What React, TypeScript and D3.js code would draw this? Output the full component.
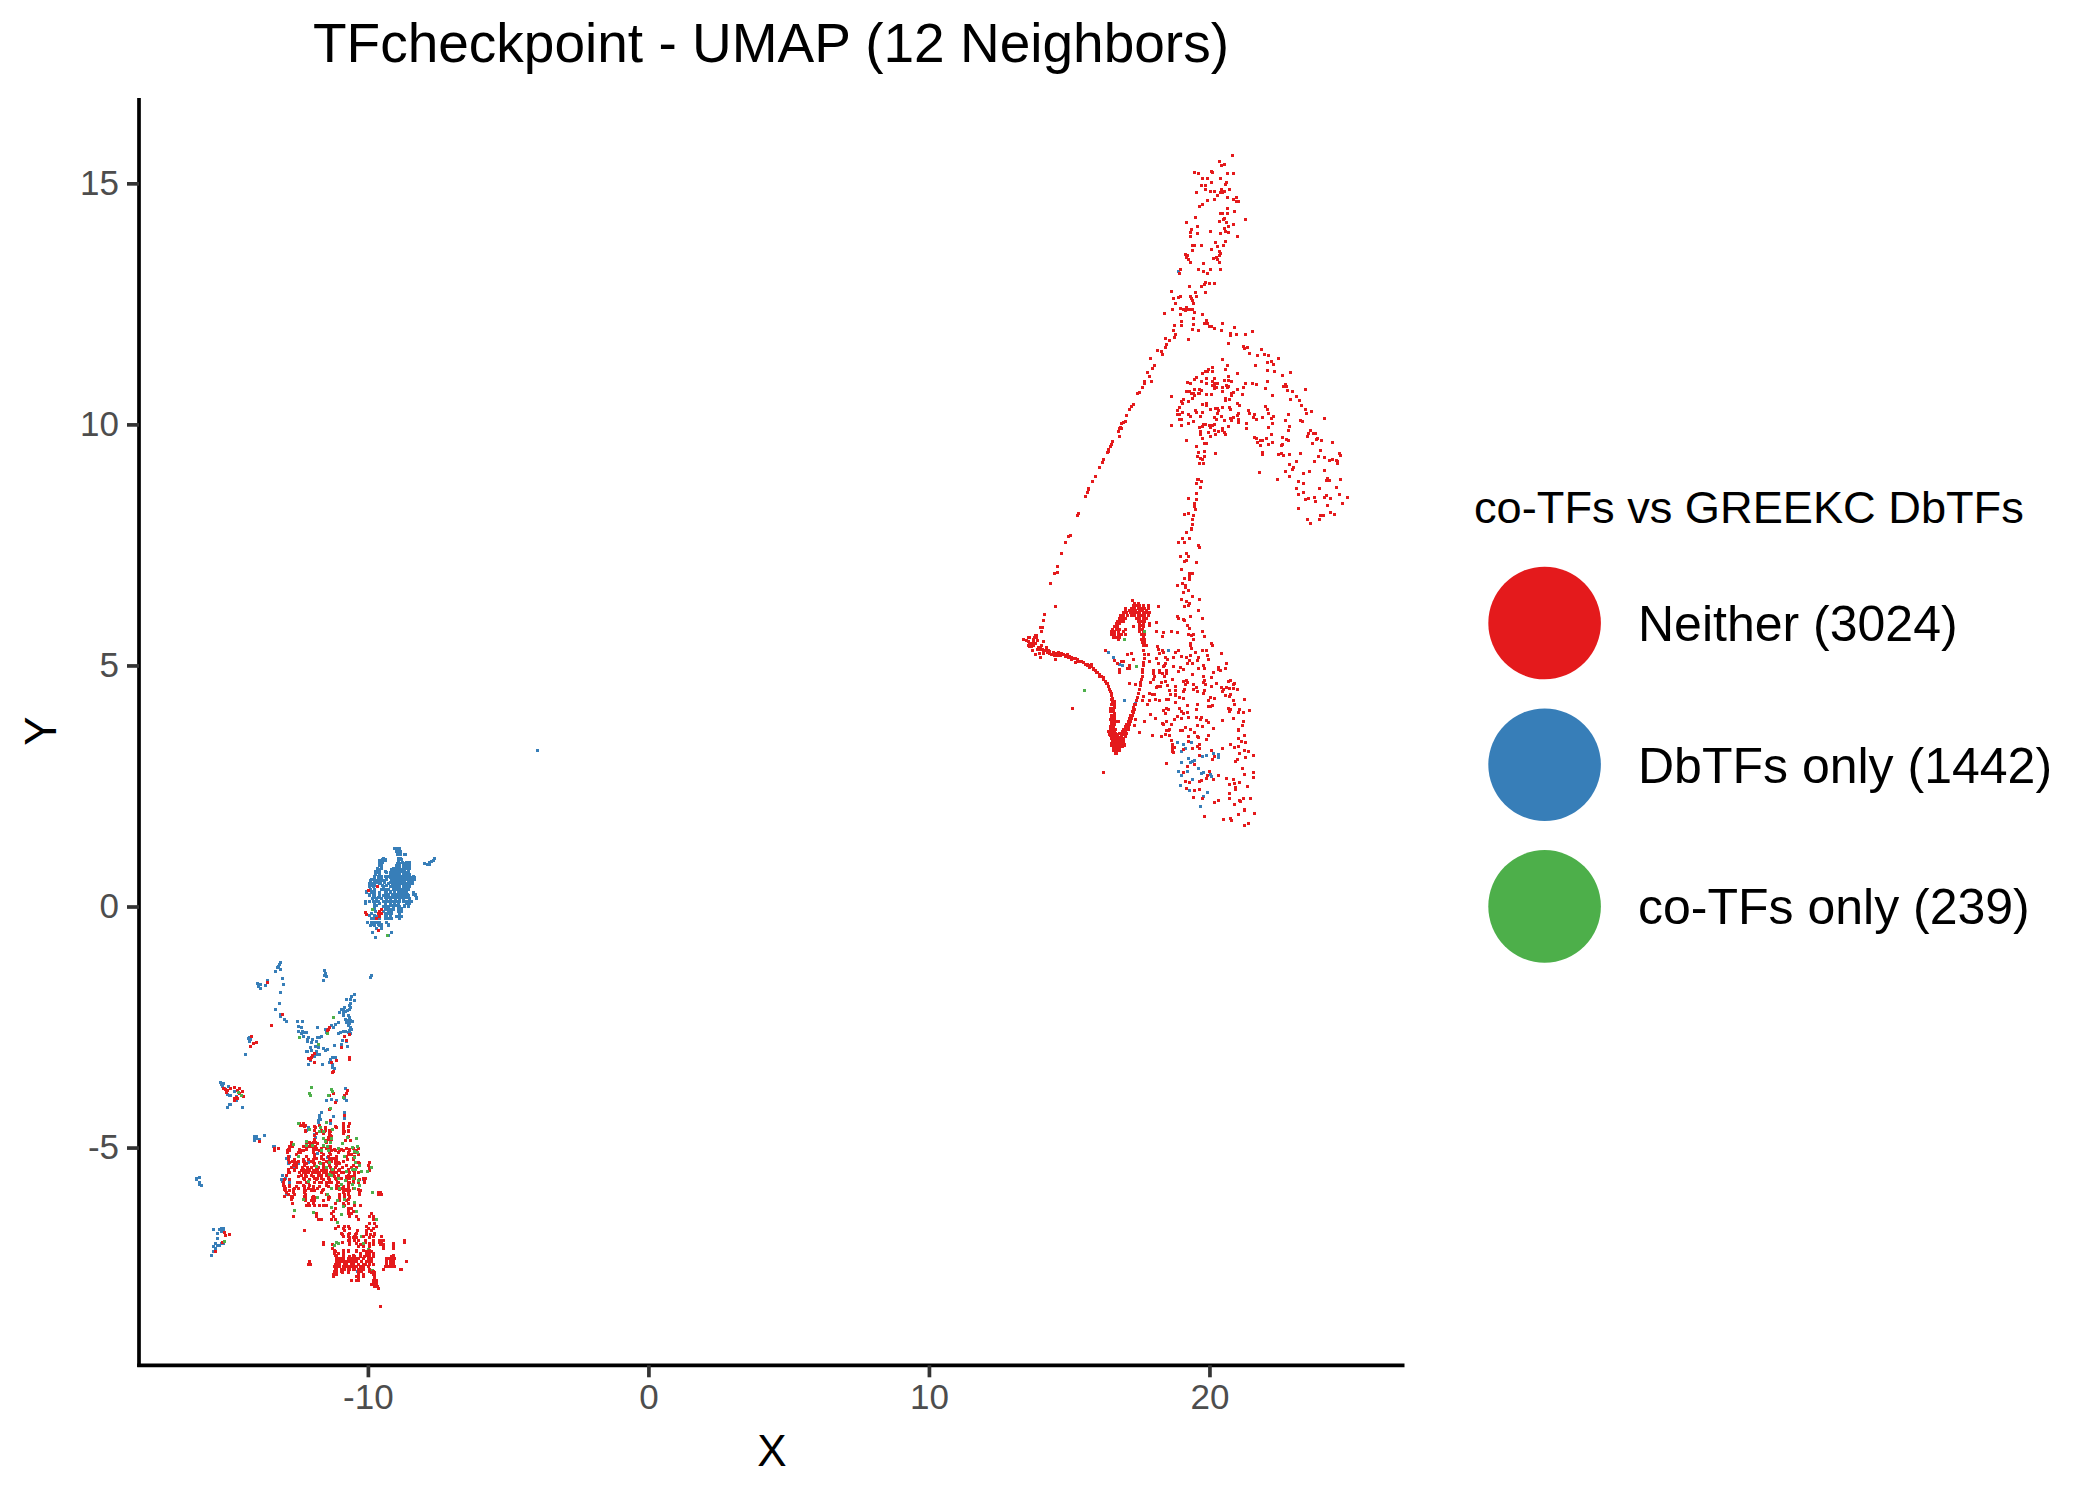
import React, { useEffect, useRef } from 'react';
import * as d3 from 'd3';

type Pt = [number, number];
type Row = [number, number[]];

const titleText = 'TFcheckpoint - UMAP (12 Neighbors)';
const legendTitle = 'co-TFs vs GREEKC DbTFs';
const legendLabels = ['Neither (3024)', 'DbTFs only (1442)', 'co-TFs only (239)'];
const colors = ['#E41A1C', '#377EB8', '#4DAF4A'];
const xTicks = [-10, 0, 10, 20];
const yTicks = [-5, 0, 5, 10, 15];

// x / y in UMAP units
const neitherTop: Pt[] = [[20.81,15.58],[20.35,15.46],[20.53,15.40],[20.42,15.38],[19.46,15.23],[19.60,15.21],[20.06,15.25],[20.10,15.23],[20.63,15.21],[20.85,15.21],[19.74,15.11],[19.92,15.09],[20.38,15.09],[20.06,15.02],[20.60,15.02],[20.56,14.98],[19.71,14.96],[19.85,14.96],[19.85,14.88],[19.53,14.82],[20.03,14.84],[20.17,14.84],[20.42,14.88],[20.53,14.84],[20.71,14.88],[20.39,14.82],[20.46,14.82],[20.28,14.75],[20.63,14.71],[20.96,14.71],[20.85,14.67],[20.96,14.63],[21.03,14.63],[20.17,14.67],[19.92,14.65],[19.74,14.57],[19.64,14.51],[20.63,14.48],[20.88,14.42],[20.38,14.38],[20.46,14.38],[20.63,14.38],[19.49,14.30],[20.53,14.28],[20.49,14.26],[20.35,14.21],[21.28,14.24],[19.17,14.19],[20.60,14.19],[20.85,14.15],[19.57,14.11],[20.67,14.11],[19.35,14.05],[20.53,14.07],[20.03,14.01],[20.56,14.01],[19.33,13.99],[19.57,13.95],[20.38,13.95],[20.67,13.97],[19.32,13.90],[20.99,13.90],[20.21,13.78],[20.56,13.80],[19.39,13.72],[19.46,13.72],[19.71,13.72],[20.28,13.70],[20.49,13.72],[19.39,13.61],[20.06,13.63],[20.35,13.59],[20.39,13.55],[19.14,13.53],[19.21,13.51],[20.35,13.51],[19.17,13.47],[20.14,13.45],[20.24,13.47],[20.28,13.43],[19.24,13.41],[19.32,13.36],[20.35,13.36],[19.78,13.34],[18.96,13.22],[19.60,13.22],[20.03,13.22],[20.38,13.22],[19.78,13.18],[19.92,13.14],[18.92,13.12],[19.85,12.95],[19.99,12.93],[20.17,12.93],[19.81,12.91],[19.28,12.85],[19.71,12.85],[18.64,12.76],[19.49,12.74],[19.85,12.74],[18.96,12.66],[18.89,12.64],[19.33,12.66],[19.53,12.66],[18.71,12.62],[19.35,12.62],[19.39,12.58],[18.78,12.51],[19.42,12.51],[18.96,12.41],[18.67,12.39],[19.09,12.39],[19.17,12.43],[19.14,12.37],[19.24,12.39],[19.32,12.39],[19.39,12.39],[19.46,12.33],[18.39,12.31],[18.96,12.27],[19.74,12.27],[19.42,12.20],[18.99,12.14],[19.89,12.16],[19.81,12.10],[19.92,12.10],[20.46,12.10],[18.75,12.06],[18.99,12.06],[19.42,12.08],[19.99,12.04],[20.06,12.04],[20.17,11.99],[20.88,12.02],[18.71,11.95],[19.39,11.97],[19.60,11.95],[20.42,11.95],[21.53,11.93],[20.74,11.89],[20.74,11.85],[20.96,11.87],[21.28,11.87],[18.78,11.87],[18.75,11.81],[18.42,11.79],[18.57,11.75],[19.24,11.77],[20.67,11.68],[18.46,11.66],[18.42,11.60],[21.20,11.62],[21.35,11.60],[21.24,11.58],[21.85,11.56],[18.14,11.54],[18.28,11.52],[18.32,11.46],[21.42,11.48],[21.70,11.43],[21.95,11.46],[22.10,11.43],[17.89,11.37],[20.46,11.35],[22.45,11.37],[22.06,11.29],[22.20,11.31],[22.27,11.25],[18.03,11.23],[20.63,11.23],[21.63,11.23],[17.96,11.16],[20.10,11.19],[19.96,11.14],[20.56,11.14],[22.06,11.12],[22.31,11.10],[19.85,11.10],[19.92,11.10],[19.74,11.06],[17.78,11.08],[20.10,11.10],[20.99,11.06],[22.88,11.08],[22.60,11.02],[17.85,11.00],[19.53,10.98],[20.67,11.00],[19.89,10.96],[20.17,10.96],[19.46,10.94],[17.68,10.90],[17.93,10.90],[17.68,10.85],[19.21,10.87],[19.32,10.85],[19.71,10.90],[19.89,10.85],[20.10,10.90],[20.53,10.92],[20.67,10.92],[20.78,10.90],[20.19,10.85],[20.28,10.85],[21.28,10.85],[21.53,10.85],[21.67,10.83],[22.06,10.90],[22.70,10.83],[20.10,10.81],[20.17,10.81],[20.24,10.77],[20.17,10.75],[20.60,10.81],[20.67,10.79],[20.46,10.77],[20.63,10.77],[21.20,10.77],[17.60,10.77],[22.63,10.79],[22.74,10.79],[21.99,10.75],[19.46,10.73],[19.64,10.73],[19.71,10.71],[20.99,10.73],[23.42,10.73],[22.77,10.71],[22.95,10.69],[20.46,10.69],[19.17,10.69],[19.28,10.69],[17.43,10.65],[17.50,10.67],[19.35,10.65],[19.42,10.65],[19.60,10.65],[19.64,10.65],[20.84,10.67],[20.80,10.65],[19.89,10.63],[20.06,10.63],[19.46,10.60],[20.78,10.60],[21.17,10.63],[22.24,10.60],[23.09,10.58],[18.64,10.58],[19.39,10.54],[20.56,10.54],[20.56,10.50],[20.71,10.52],[23.20,10.50],[22.88,10.52],[19.07,10.52],[18.99,10.48],[19.24,10.48],[19.03,10.44],[19.74,10.42],[19.89,10.44],[19.89,10.40],[20.99,10.44],[21.06,10.40],[17.28,10.42],[17.21,10.38],[17.14,10.31],[23.27,10.40],[18.92,10.36],[20.21,10.33],[20.28,10.33],[20.46,10.36],[20.71,10.36],[21.99,10.38],[20.03,10.31],[20.74,10.31],[22.06,10.31],[23.42,10.31],[18.85,10.29],[19.49,10.29],[19.53,10.25],[20.31,10.29],[21.38,10.29],[19.03,10.25],[19.74,10.25],[20.28,10.23],[21.03,10.23],[21.42,10.23],[22.10,10.23],[23.63,10.27],[23.45,10.23],[18.85,10.21],[18.92,10.21],[19.24,10.21],[21.60,10.21],[22.81,10.21],[17.03,10.19],[19.32,10.17],[19.67,10.17],[20.17,10.15],[20.42,10.17],[20.85,10.15],[20.99,10.19],[21.56,10.15],[21.88,10.15],[22.27,10.17],[20.24,10.11],[20.74,10.13],[20.78,10.09],[21.03,10.11],[21.03,10.04],[21.67,10.11],[22.20,10.13],[24.09,10.13],[18.92,10.11],[18.99,10.11],[20.53,10.09],[22.70,10.09],[23.24,10.09],[23.31,10.07],[17.00,10.07],[16.93,10.04],[16.86,10.02],[19.42,10.07],[19.24,10.02],[21.31,10.02],[22.24,10.02],[18.64,9.98],[18.99,9.98],[19.78,10.00],[19.85,10.00],[19.99,9.98],[20.10,9.98],[20.17,10.00],[20.67,9.96],[22.85,9.96],[19.64,9.94],[19.74,9.96],[20.03,9.94],[22.10,9.94],[21.31,9.92],[16.82,9.94],[16.78,9.92],[16.86,9.92],[20.46,9.92],[20.46,9.88],[20.17,9.88],[22.81,9.88],[23.59,9.88],[19.67,9.86],[20.31,9.86],[16.75,9.86],[19.96,9.84],[20.53,9.84],[23.52,9.82],[23.70,9.82],[23.77,9.82],[19.67,9.78],[20.21,9.78],[20.56,9.78],[22.20,9.78],[16.78,9.75],[20.03,9.75],[23.49,9.75],[19.74,9.71],[21.60,9.73],[21.67,9.71],[22.02,9.71],[22.60,9.73],[23.84,9.71],[23.81,9.69],[19.17,9.67],[21.81,9.67],[21.88,9.67],[22.74,9.69],[22.81,9.67],[23.99,9.67],[16.53,9.65],[21.70,9.63],[22.24,9.63],[24.38,9.63],[23.66,9.61],[16.50,9.59],[16.46,9.55],[19.81,9.61],[19.89,9.61],[21.81,9.57],[22.10,9.59],[22.60,9.59],[22.56,9.57],[19.53,9.55],[16.39,9.48],[16.39,9.44],[16.36,9.42],[23.95,9.46],[19.81,9.44],[19.60,9.42],[20.21,9.40],[21.88,9.42],[21.88,9.38],[22.45,9.38],[22.56,9.40],[22.63,9.36],[22.85,9.38],[23.24,9.40],[24.63,9.40],[24.66,9.36],[19.57,9.34],[19.81,9.34],[23.88,9.34],[24.09,9.32],[19.67,9.30],[19.74,9.28],[16.21,9.28],[16.18,9.21],[24.38,9.28],[24.27,9.26],[24.52,9.26],[24.56,9.22],[24.56,9.19],[23.09,9.24],[23.74,9.22],[19.64,9.19],[19.78,9.19],[22.85,9.17],[16.07,9.11],[22.99,9.11],[22.95,9.07],[22.70,9.03],[23.56,9.03],[24.09,9.05],[21.78,9.01],[23.34,8.99],[15.93,8.92],[22.85,8.92],[19.57,8.86],[19.60,8.86],[22.42,8.86],[24.20,8.88],[24.16,8.84],[24.27,8.84],[24.66,8.86],[15.82,8.82],[19.53,8.78],[19.71,8.82],[23.17,8.82],[23.34,8.78],[19.67,8.70],[15.68,8.66],[23.09,8.66],[23.91,8.68],[24.52,8.70]];

const neitherTail: Pt[] = [[23.17,8.55],[23.35,8.59],[24.17,8.53],[24.63,8.55],[24.92,8.49],[23.53,8.47],[23.42,8.45],[23.74,8.49],[24.10,8.49],[24.31,8.47],[23.78,8.41],[24.74,8.35],[24.20,8.32],[23.17,8.26],[24.31,8.18],[24.45,8.14],[23.95,8.12],[24.06,8.12],[23.49,8.03],[23.92,8.03],[23.60,7.95]];

const neitherMiddle: Pt[] = [[15.57,8.51],[15.64,8.59],[15.68,8.64],[15.29,8.12],[15.32,8.16],[14.97,7.68],[15.04,7.70],[14.86,7.54],[14.72,7.33],[14.57,7.06],[14.57,6.93],[14.47,6.91],[14.32,6.69],[14.50,6.23],[14.11,6.06],[14.07,5.94],[13.97,5.79],[14.04,5.79],[14.00,5.71],[19.53,8.57],[19.24,8.47],[19.53,8.45],[19.46,8.35],[19.46,8.30],[19.49,8.24],[19.10,8.14],[19.24,8.16],[19.42,8.10],[19.39,8.03],[19.39,7.93],[19.35,7.85],[19.35,7.82],[19.17,7.76],[19.03,7.64],[19.28,7.64],[18.89,7.54],[19.10,7.56],[19.60,7.49],[19.64,7.45],[19.17,7.33],[18.96,7.25],[19.24,7.25],[19.10,7.16],[19.17,7.18],[19.53,7.14],[18.99,7.00],[19.28,6.91],[19.39,6.91],[19.28,6.85],[19.28,6.79],[19.10,6.81],[18.85,6.66],[19.03,6.69],[19.14,6.66],[19.14,6.62],[19.24,6.56],[19.07,6.52],[19.39,6.42],[18.99,6.37],[19.64,6.37],[19.17,6.33],[19.28,6.29],[19.24,6.25],[19.10,6.23],[19.60,6.15],[18.17,6.23],[18.85,6.02],[18.89,5.98],[19.32,6.02],[19.07,5.96],[19.10,5.94],[19.74,5.98],[17.85,5.86],[17.85,5.83],[18.10,5.90],[19.21,5.83],[19.28,5.77],[18.10,5.71],[18.35,5.69],[18.64,5.71],[18.85,5.69],[19.74,5.71],[18.32,5.61],[19.24,5.65],[19.35,5.63],[19.42,5.65],[19.81,5.61],[19.42,5.54],[19.32,5.46],[19.32,5.41],[20.06,5.46],[20.10,5.42],[18.14,5.40],[18.17,5.34],[18.32,5.32],[19.35,5.36],[18.35,5.27],[18.89,5.32],[19.74,5.30],[19.89,5.30],[18.78,5.27],[19.49,5.27],[20.42,5.25],[17.82,5.23],[18.21,5.25],[19.92,5.21],[19.00,5.19],[19.32,5.21],[18.42,5.17],[18.71,5.17],[19.17,5.17],[19.60,5.17],[18.10,5.15],[18.50,5.13],[19.28,5.11],[19.57,5.11],[19.96,5.13],[17.85,5.09],[18.17,5.05],[18.42,5.05],[18.39,5.00],[19.21,5.05],[19.39,5.05],[20.60,5.05],[19.78,5.00],[18.35,4.98],[18.71,4.98],[18.96,4.96],[19.60,4.94],[19.81,4.94],[20.31,4.96],[20.31,4.92],[20.56,4.94],[18.00,4.90],[18.21,4.90],[18.46,4.90],[18.89,4.88],[19.07,4.92],[20.38,4.90],[20.14,4.86],[18.00,4.84],[18.21,4.86],[18.32,4.84],[18.46,4.84],[19.39,4.82],[18.03,4.78],[18.00,4.71],[18.39,4.78],[19.78,4.78],[20.06,4.76],[18.67,4.71],[17.89,4.65],[18.28,4.65],[18.42,4.67],[19.07,4.67],[19.17,4.69],[19.21,4.65],[19.81,4.69],[19.78,4.65],[19.85,4.61],[20.24,4.63],[20.67,4.67],[20.74,4.69],[20.85,4.61],[20.88,4.63],[19.14,4.61],[19.42,4.61],[18.14,4.57],[18.21,4.57],[18.10,4.55],[18.25,4.57],[18.50,4.59],[18.78,4.57],[19.53,4.55],[20.06,4.57],[20.42,4.55],[20.60,4.55],[20.49,4.51],[20.71,4.53],[20.85,4.53],[20.99,4.51],[19.42,4.51],[18.57,4.49],[18.78,4.49],[19.10,4.51],[19.07,4.47],[19.57,4.47],[19.81,4.49],[19.78,4.42],[20.46,4.47],[17.85,4.42],[17.96,4.40],[18.03,4.40],[18.60,4.40],[18.78,4.40],[18.78,4.38],[20.56,4.38],[20.71,4.36],[20.74,4.40],[18.92,4.34],[19.07,4.32],[20.03,4.34],[20.17,4.32],[19.96,4.28],[20.85,4.28],[21.24,4.30],[17.64,4.36],[17.60,4.28],[17.85,4.28],[18.07,4.30],[18.21,4.28],[18.46,4.30],[18.53,4.30],[18.78,4.24],[17.78,4.20],[19.21,4.17],[19.57,4.20],[19.96,4.15],[20.03,4.15],[20.10,4.17],[20.88,4.20],[18.46,4.11],[18.53,4.09],[18.92,4.11],[19.53,4.09],[20.67,4.11],[20.74,4.09],[20.71,4.05],[21.06,4.09],[21.03,4.03],[21.42,4.07],[21.20,4.03],[18.35,4.07],[18.42,4.01],[19.00,4.05],[19.07,4.01],[19.21,4.03],[17.89,3.99],[18.85,3.95],[18.07,3.90],[18.75,3.88],[19.00,3.90],[19.24,3.93],[19.53,3.93],[19.67,3.88],[19.71,3.93],[20.85,3.90],[17.68,3.84],[19.89,3.86],[19.96,3.82],[20.46,3.86],[21.20,3.84],[18.32,3.80],[18.35,3.78],[18.46,3.84],[18.64,3.78],[19.57,3.76],[19.74,3.74],[21.17,3.76],[19.14,3.72],[20.14,3.70],[18.57,3.68],[18.53,3.66],[18.46,3.66],[18.96,3.66],[19.03,3.66],[19.32,3.68],[21.03,3.68],[21.03,3.66],[19.46,3.61],[17.50,3.61],[17.96,3.55],[18.28,3.53],[18.42,3.57],[18.57,3.55],[19.24,3.53],[19.57,3.53],[19.60,3.51],[19.96,3.55],[21.24,3.55],[19.89,3.47],[21.03,3.49],[18.64,3.45],[19.24,3.43],[21.13,3.43],[21.28,3.41],[18.67,3.37],[18.67,3.32],[19.64,3.37],[19.57,3.32],[20.74,3.35],[20.88,3.30],[21.03,3.32],[18.75,3.30],[18.67,3.26],[18.67,3.22],[18.71,3.20],[19.07,3.26],[19.39,3.28],[19.64,3.28],[20.46,3.28],[20.06,3.24],[21.24,3.24],[21.38,3.22],[21.06,3.18],[21.56,3.14],[19.64,3.14],[20.17,3.12],[20.10,3.05],[21.28,3.10],[20.99,3.05],[20.92,3.01],[18.46,2.97],[19.46,2.95],[19.21,2.91],[21.17,2.87],[16.21,2.78],[19.07,2.78],[20.00,2.81],[19.92,2.72],[20.31,2.72],[21.56,2.78],[21.56,2.68],[21.24,2.74],[19.89,2.66],[20.14,2.64],[20.60,2.66],[20.85,2.64],[19.71,2.62],[19.64,2.60],[19.14,2.60],[19.28,2.58],[21.06,2.58],[20.88,2.56],[20.71,2.54],[21.35,2.49],[20.92,2.47],[20.92,2.43],[19.17,2.45],[19.46,2.41],[19.64,2.43],[20.71,2.35],[19.42,2.27],[19.74,2.25],[20.71,2.25],[21.20,2.25],[21.45,2.25],[21.06,2.20],[21.10,2.18],[20.31,2.20],[20.17,2.16],[20.88,2.12],[21.24,2.02],[21.24,1.99],[21.60,1.93],[21.03,1.91],[19.81,1.87],[20.49,1.81],[20.74,1.83],[20.78,1.79],[21.38,1.73],[21.24,1.69]];

const neitherHook: Pt[] = [[13.36,5.54],[13.47,5.52],[13.54,5.57],[13.58,5.57],[13.72,5.54],[13.79,5.63],[13.83,5.63],[13.75,5.57],[13.83,5.57],[13.86,5.52],[13.54,5.50],[13.58,5.46],[13.54,5.42],[13.58,5.40],[13.65,5.46],[13.72,5.48],[13.79,5.46],[13.72,5.42],[13.65,5.40],[14.00,5.42],[13.90,5.38],[13.97,5.36],[14.07,5.50],[13.68,5.32],[13.86,5.34],[13.93,5.34],[14.04,5.34],[14.18,5.38],[14.25,5.32],[13.79,5.23],[13.93,5.25],[14.07,5.27],[14.07,5.25],[14.15,5.30],[14.22,5.27],[14.29,5.25],[13.97,5.17],[14.36,5.23],[14.43,5.27],[14.47,5.21],[14.57,5.21],[14.61,5.27],[14.68,5.21],[14.79,5.23],[14.86,5.21],[14.93,5.23],[15.00,5.19],[15.07,5.17],[15.14,5.15],[15.22,5.15],[15.29,5.13],[15.22,5.07],[15.36,5.09],[15.43,5.09],[15.50,5.07],[14.50,5.13],[15.57,5.03],[15.64,5.03],[15.71,5.00],[15.79,4.98],[15.79,5.03],[15.86,4.94],[15.93,4.90],[16.00,4.86],[16.07,4.82],[16.14,4.78],[16.21,4.74],[16.29,4.67],[16.32,4.63],[16.39,4.57],[16.43,4.51],[16.46,4.45],[16.50,4.38],[16.53,4.32],[16.57,4.26],[16.57,4.20],[16.61,4.13],[16.57,4.07],[16.61,4.01],[16.57,3.95],[16.61,3.88],[16.57,3.82],[16.57,3.76],[16.53,3.70],[16.57,3.64],[16.53,3.60],[16.46,3.88],[16.75,3.84],[16.39,3.64],[16.43,3.59],[16.46,3.55],[16.50,3.49],[16.53,3.45],[16.61,3.41],[16.64,3.37],[16.71,3.32],[16.57,3.26],[16.68,3.18],[16.78,3.24],[16.71,3.24],[16.64,3.24],[16.89,3.32],[16.96,3.37],[16.78,3.41],[16.86,3.45],[16.93,3.49],[17.00,3.53],[17.03,3.59],[17.10,3.68],[16.93,3.66],[16.78,3.59],[16.71,3.51],[16.68,3.45],[16.75,3.37],[16.57,3.35],[16.50,3.37],[16.64,3.45],[16.71,3.41],[16.86,3.37],[16.78,3.32],[16.64,3.30],[16.57,3.53],[16.64,3.59],[16.64,3.53],[16.78,3.49],[16.86,3.53],[16.93,3.41],[17.14,3.78],[17.18,3.84],[17.21,3.90],[17.25,3.97],[17.28,4.03],[17.32,4.09],[17.28,4.13],[17.35,4.20],[17.39,4.28],[17.43,4.34],[17.46,4.42],[17.50,4.51],[17.53,4.59],[17.53,4.65],[17.57,4.71],[17.60,4.78],[17.60,4.86],[17.60,4.92],[17.64,5.00],[17.64,5.07],[17.68,5.15],[17.68,5.23],[17.64,5.32],[17.71,5.42],[17.68,5.50],[17.64,5.59],[17.64,5.67],[17.60,5.75],[17.60,5.83],[17.60,5.92],[17.21,5.25],[17.07,5.23],[17.28,5.13],[16.71,5.05],[16.86,5.09],[16.93,5.09],[17.14,5.00],[17.07,4.94],[17.14,4.94],[16.78,4.92],[16.78,4.86],[16.61,5.11],[16.29,5.30],[17.14,4.63],[17.35,4.61],[17.32,3.76],[15.11,4.11],[17.35,3.88],[14.31,5.29],[14.38,5.22],[14.55,5.24],[14.73,5.25],[14.88,5.18],[14.97,5.16],[15.08,5.13],[15.32,5.08],[15.64,4.99],[15.74,4.96],[15.88,4.91],[15.98,4.85],[16.09,4.78],[16.21,4.70],[16.36,4.62],[16.45,4.51],[16.52,4.42],[16.51,4.29]];

const hookTopRows: Row[] = [
  [6.35,[17.25]],[6.29,[17.34,17.46]],[6.24,[17.28,17.40,17.52,17.64,17.82]],[6.19,[17.02,17.23,17.34,17.46,17.58,17.70,17.82]],[6.14,[17.02,17.14,17.26,17.38,17.50,17.62,17.74]],[6.09,[16.93,17.05,17.17,17.28,17.40,17.52,17.64,17.76,17.88]],[6.03,[16.83,16.95,17.07,17.23,17.34,17.46,17.58,17.70,17.82]],[5.98,[16.79,16.90,17.02,17.40,17.52,17.64,17.76]],[5.92,[16.71,16.83,16.95,17.46,17.58,17.70]],[5.86,[16.67,16.79,17.52,17.64]],[5.81,[16.60,16.71,17.31,17.52,17.64]],[5.75,[16.55,16.67,16.79,17.02,17.50,17.62]],[5.70,[16.51,16.63,16.75,16.93,17.52,17.64]],[5.64,[16.51,16.63,16.75,16.87,16.99,17.58,17.70]],[5.59,[16.57,16.69,16.81]],[5.53,[16.75,17.58,17.70]],[5.48,[17.62,17.70]],[5.41,[17.64,17.74]],
];

const hookBottomRows: Row[] = [
  [4.25,[16.54,16.63]],[4.18,[16.51,16.61,17.32]],[4.11,[16.49,16.59,17.29]],[4.04,[16.49,16.59,17.25]],[3.97,[16.51,16.61,17.20]],[3.90,[16.51,16.61,17.16]],[3.83,[16.51,16.61,16.73,17.11]],[3.78,[16.51,16.61,17.05]],[3.73,[16.49,16.59,16.99,17.11]],[3.67,[16.47,16.56,16.66,16.93,17.01]],[3.62,[16.40,16.51,16.63,16.89,16.99]],[3.56,[16.42,16.54,16.63,16.73,16.87,16.97]],[3.51,[16.51,16.63,16.75,16.87]],[3.45,[16.57,16.69,16.81,16.93]],[3.39,[16.51,16.63,16.75,16.87]],[3.34,[16.51,16.63,16.75,16.87,16.97]],[3.28,[16.57,16.69,16.81]],[3.23,[16.57,16.69,16.78]],[3.17,[16.66]],
];

const neitherSmall: Pt[] = [[-9.52,-0.06],[-9.57,-0.11],[-9.61,-0.14],[-9.53,-0.14],[-9.57,-0.20],[-10.09,-0.12],[-10.06,-0.16],[-9.99,0.34],[-9.66,0.41],[-9.63,-0.49],[-9.69,-0.25],[-13.59,-1.57],[-13.05,-2.24],[-13.44,-2.47],[-14.16,-2.69],[-14.09,-2.84],[-13.98,-2.82],[-14.19,-2.90],[-11.38,-2.51],[-11.41,-2.55],[-11.45,-2.57],[-10.66,-2.65],[-10.84,-2.69],[-10.77,-2.78],[-10.95,-2.92],[-12.12,-3.15],[-12.02,-3.13],[-11.98,-3.09],[-11.91,-3.05],[-12.05,-3.17],[-11.91,-3.23],[-11.30,-3.23],[-11.13,-3.19],[-10.66,-3.13],[-10.66,-3.17],[-11.27,-3.44],[-11.23,-3.42],[-15.16,-3.77],[-15.08,-3.79],[-15.01,-3.81],[-14.91,-3.77],[-15.05,-3.85],[-14.76,-3.75],[-14.58,-3.77],[-14.66,-3.81],[-14.48,-3.83],[-14.58,-3.88],[-14.76,-3.98],[-14.69,-3.96],[-14.66,-3.98],[-14.76,-4.02],[-14.44,-3.94],[-13.87,-4.87],[-15.12,-6.77],[-15.08,-6.82],[-14.94,-6.80],[-15.19,-6.97],[-15.44,-7.15]];

const neitherLowerRows: Row[] = [
  [-3.81,[-10.73]],[-3.88,[-11.23,-10.78]],[-3.93,[-11.38,-10.82]],[-4.06,[-11.16]],[-4.22,[-11.38]],[-4.33,[-10.82]],[-4.44,[-11.34]],[-4.50,[-10.88,-10.66]],
  [-4.54,[-12.42,-12.35,-12.28,-12.22,-11.73]],[-4.58,[-11.88,-11.69,-11.52,-11.13,-10.88]],[-4.64,[-11.52,-11.35]],[-4.67,[-12.21,-11.69,-11.54,-11.33,-10.84,-10.70]],[-4.74,[-11.90,-11.33]],[-4.79,[-11.40,-11.33]],[-4.86,[-11.52,-10.81,-10.63]],[-4.91,[-12.73,-12.04,-11.80]],
  [-4.97,[-12.71,-12.30,-11.90,-11.59,-11.41,-11.35]],[-5.02,[-13.33,-13.19,-12.80,-12.18,-11.85,-11.65,-11.47,-11.33,-10.76,-10.52,-10.34]],[-5.07,[-13.34,-12.87,-12.78,-12.42,-12.28,-11.71,-11.29,-11.17,-11.00,-10.88,-10.66,-10.40]],[-5.14,[-12.54,-11.89,-11.59,-11.35,-10.70,-10.58,-10.33]],[-5.23,[-11.83,-11.65,-11.29,-11.21,-10.52]],[-5.29,[-12.68,-12.48,-12.28,-12.00,-11.47,-11.29,-11.14,-10.88]],[-5.34,[-12.60,-12.18,-11.89,-11.59,-11.17,-11.02,-10.31]],
  [-5.41,[-12.72,-12.54,-12.33,-12.16,-12.00,-11.77,-11.57,-11.35,-11.17,-10.90,-10.58,-10.40,-9.93]],[-5.47,[-12.60,-12.36,-12.18,-12.07,-11.95,-11.80,-11.65,-11.47,-11.23,-11.06,-10.52,-9.95]],[-5.52,[-12.80,-12.45,-12.30,-12.13,-11.97,-11.83,-11.59,-11.35,-11.11,-10.88,-10.64,-10.34]],[-5.58,[-12.90,-12.36,-12.21,-12.00,-11.77,-11.65,-11.47,-11.23,-11.06,-10.70,-10.46]],[-5.65,[-12.28,-11.92,-11.80,-11.65,-11.41,-11.17,-10.95,-10.66,-10.46,-10.16,-10.07]],[-5.72,[-12.52,-12.42,-12.13,-11.89,-11.71,-11.47,-11.29,-11.09,-10.70,-10.52]],[-5.79,[-13.02,-12.80,-12.28,-12.09,-11.47,-11.11,-10.70]],
  [-5.85,[-12.92,-12.60,-12.48,-12.13,-11.95,-11.80,-11.11,-10.97,-10.88,-10.70,-10.52]],[-5.90,[-12.92,-12.78,-12.24,-12.00,-11.89,-11.61,-10.88,-10.76,-10.64,-10.28]],[-5.97,[-12.84,-12.60,-12.24,-11.47,-11.00,-10.82,-10.70,-10.31,-9.63,-9.53]],[-6.04,[-12.70,-12.24,-11.98,-11.83,-11.38,-11.00,-10.82,-10.64]],[-6.10,[-12.24,-12.00,-11.89,-11.59,-11.00,-10.76]],[-6.16,[-12.70,-12.13,-11.95,-11.16,-10.88,-10.70]],[-6.21,[-12.18,-12.07,-11.89,-11.71,-11.59,-11.47,-10.82,-10.46,-10.27]],
  [-6.26,[-11.17,-10.70,-10.58]],[-6.32,[-11.23,-10.70,-10.52]],[-6.37,[-11.83,-11.29,-10.70,-10.58,-9.87]],[-6.42,[-12.66,-11.83,-11.23,-10.64,-10.40,-9.95,-9.81]],[-6.50,[-11.77,-11.65,-11.29,-11.17,-10.34,-9.69,-9.81]],[-6.57,[-9.75,-9.93]],[-6.63,[-11.06,-10.82,-10.70,-10.05,-9.69]],[-6.68,[-11.14,-10.88,-10.64,-9.99,-9.81]],[-6.73,[-12.27,-10.82,-10.38,-10.05,-9.87]],[-6.80,[-10.90,-10.70,-10.44,-10.05,-9.90,-9.75]],[-6.86,[-10.64,-10.52,-10.40,-9.93]],[-6.92,[-10.70,-10.34,-10.10,-9.51,-9.45]],[-6.97,[-11.59,-10.90,-10.64,-10.10,-9.57,-8.68]],[-7.02,[-11.59,-11.26,-10.64,-10.28,-9.81,-9.55,-9.43,-9.09]],[-7.09,[-11.26,-9.45,-9.09]],
  [-7.16,[-11.17,-10.88,-10.70,-10.40,-10.05,-9.87]],[-7.23,[-11.17,-10.88,-10.52,-10.28,-10.05,-9.81,-9.09]],[-7.30,[-11.11,-10.94,-10.64,-10.40,-10.16,-9.93,-9.27,-9.15,-9.04]],[-7.37,[-12.07,-11.06,-10.88,-10.70,-10.46,-10.22,-9.99,-9.33,-9.21,-9.09,-8.64]],[-7.42,[-12.13,-12.04,-11.17,-11.00,-10.82,-10.58,-10.34,-10.10,-9.33,-9.19,-9.07]],[-7.47,[-11.11,-10.88,-10.76,-10.64,-10.52,-10.28,-10.16,-9.33,-9.21,-9.09]],[-7.53,[-11.17,-10.82,-10.64,-10.46,-10.34,-10.22,-9.45,-8.83]],[-7.60,[-11.11,-10.90,-10.70,-10.34,-9.87,-9.78]],[-7.67,[-11.21,-10.40,-10.16,-9.75]],[-7.75,[-10.58,-10.34,-9.81,-9.69]],[-7.83,[-9.87,-9.69]],[-7.92,[-9.63]],[-8.30,[-9.56]],
];

// second, closer reading of the upper part of the red cluster
const neitherUpperDense: Row[] = [
  [-4.50,[-12.43,-12.28,-10.88,-10.67]],[-4.57,[-12.25,-11.89,-11.14,-10.88,-10.70]],[-4.64,[-12.21,-11.89,-11.65,-11.38,-10.88,-10.70]],[-4.71,[-11.83,-11.60,-11.36,-10.88]],[-4.78,[-11.36,-11.30,-10.70]],[-4.84,[-11.89,-11.42,-11.30]],[-4.90,[-12.72,-12.19,-12.09,-11.95,-11.86,-11.48]],[-4.97,[-12.78,-12.69,-12.31,-12.13,-12.01,-11.86,-11.60]],[-5.04,[-12.84,-12.43,-12.19,-11.95,-11.83,-11.36,-11.18,-10.94,-10.64]],[-5.11,[-12.88,-12.49,-12.40,-11.95,-11.65,-11.36,-11.06,-10.70,-10.47]],[-5.18,[-12.84,-12.49,-12.19,-11.89,-11.65,-11.42,-11.12,-10.76,-10.47]],[-5.25,[-12.84,-12.61,-12.31,-12.13,-11.95,-11.60,-11.36,-11.12,-10.74,-10.53]],[-5.32,[-12.78,-12.61,-12.55,-12.25,-11.95,-11.71,-11.42,-11.06,-10.35,-9.93]],[-5.38,[-12.66,-12.55,-12.25,-11.89,-11.60,-11.36,-11.12,-10.76,-10.53,-9.99]],[-5.45,[-12.84,-12.61,-12.31,-12.13,-11.83,-11.60,-11.30,-11.00,-10.70,-10.47]],[-5.52,[-12.84,-12.43,-12.19,-11.95,-11.71,-11.48,-11.24,-10.94,-10.47]],[-5.59,[-12.49,-12.19,-11.95,-11.65,-11.42,-11.18,-10.76,-10.59]],[-5.66,[-12.96,-12.78,-12.25,-12.07,-11.83,-11.60,-11.36,-11.12,-10.76,-10.53,-10.29,-10.11]],[-5.73,[-13.02,-12.49,-12.19,-11.89,-11.65,-11.36,-11.06,-10.64,-10.35,-10.11]],[-5.80,[-12.96,-12.78,-12.55,-12.25,-11.95,-11.71,-11.42,-11.06,-10.88,-10.70]],[-5.87,[-12.96,-12.66,-12.25,-12.01,-11.60,-11.00,-10.76,-10.35]],[-5.94,[-12.90,-12.66,-12.25,-11.65,-10.88,-10.70,-10.29,-9.63,-9.54]],[-6.01,[-12.96,-12.72,-12.25,-11.95,-11.42,-11.00,-10.82,-10.64]],[-6.08,[-12.72,-11.95,-11.42,-10.82,-10.70]],
];

// same for the bottom part, where the marks run together
const neitherBottomDense: Row[] = [
  [-6.78,[-10.94,-10.64,-10.40,-10.05,-9.75]],[-6.85,[-10.88,-10.70,-10.46,-10.17,-9.81,-9.51]],[-6.92,[-10.64,-10.46,-10.34,-9.81,-9.57,-9.45,-8.68]],[-6.99,[-10.64,-10.40,-10.17,-9.93,-9.81,-9.51,-9.10]],[-7.06,[-10.34,-10.17,-9.93,-9.45,-9.10]],[-7.14,[-11.18,-10.88,-10.70,-10.40,-10.17,-9.93]],[-7.19,[-11.18,-11.06,-10.88,-10.28,-10.05,-9.93,-9.81]],[-7.25,[-11.12,-10.64,-10.46,-10.28,-10.11,-9.93,-9.81,-9.15]],[-7.30,[-11.12,-11.00,-10.88,-10.70,-10.58,-10.46,-10.34,-10.17,-9.99,-9.87,-9.33,-9.21,-9.10]],[-7.36,[-11.12,-10.97,-10.76,-10.58,-10.40,-10.22,-10.05,-9.87,-9.33,-9.21,-9.10,-8.64]],[-7.42,[-11.12,-11.00,-10.76,-10.52,-10.34,-10.17,-9.93,-9.81,-9.33,-9.21,-9.10]],[-7.47,[-11.18,-11.00,-10.82,-10.58,-10.40,-10.22,-9.99,-9.39,-9.27,-9.15,-9.04]],[-7.53,[-11.12,-10.94,-10.70,-10.52,-10.34,-10.17,-9.93,-8.80]],[-7.58,[-11.18,-10.94,-10.70,-10.34,-10.22,-9.93,-9.81]],[-7.64,[-11.23,-11.12,-10.34,-10.17,-9.81,-9.75]],[-7.69,[-10.34,-9.75]],[-7.75,[-10.58,-10.40,-9.75,-9.69]],[-7.82,[-9.81,-9.69]],[-7.89,[-9.75,-9.67]],
];

const dbtfsClusterRows: Row[] = [
  [1.21,[-9.04,-8.88]],[1.14,[-8.92,-8.85]],[1.07,[-8.92,-8.85,-8.67]],[1.00,[-9.45,-8.92,-8.85]],[0.96,[-9.59,-9.45,-9.36,-8.92]],[0.90,[-9.59,-9.52,-8.95,-8.86,-8.71,-8.60,-8.52]],[0.83,[-9.52,-8.98,-8.86,-8.74,-8.62,-8.52]],[0.77,[-9.63,-9.15,-9.04,-8.92,-8.80,-8.68,-8.56]],[0.70,[-9.69,-9.57,-9.33,-9.21,-9.09,-8.98,-8.86,-8.74,-8.62]],[0.63,[-9.75,-9.63,-9.51,-9.39,-9.27,-9.15,-9.04,-8.92,-8.80,-8.68,-8.56,-8.38]],[0.56,[-9.87,-9.75,-9.63,-9.51,-9.33,-9.09,-8.98,-8.86,-8.74,-8.62,-8.50,-8.34]],[0.49,[-9.90,-9.78,-9.66,-9.54,-9.42,-9.21,-9.04,-8.92,-8.80,-8.68,-8.56,-8.41]],[0.43,[-9.90,-9.78,-9.49,-9.33,-9.09,-8.98,-8.86,-8.62,-8.50]],[0.36,[-9.90,-9.78,-9.45,-9.27,-9.09,-8.98,-8.80,-8.68,-8.56]],[0.31,[-10.05,-9.87,-9.75,-9.33,-9.21,-9.04,-8.86,-8.74,-8.62]],[0.24,[-9.93,-9.81,-9.57,-9.39,-9.27,-9.09,-8.98,-8.86,-8.71,-8.60,-8.38,-8.32]],[0.18,[-9.81,-9.63,-9.39,-9.27,-9.15,-9.04,-8.92,-8.80,-8.62,-8.26]],[0.10,[-10.10,-9.95,-9.81,-9.69,-9.45,-9.33,-9.21,-9.09,-8.98,-8.86,-8.74,-8.62,-8.50,-8.44]],[0.01,[-9.75,-9.45,-9.27,-9.09,-8.86,-8.71,-8.56]],[-0.07,[-9.75,-9.33,-9.21,-9.09]],[-0.14,[-9.87,-9.39,-9.27,-9.15,-8.86]],[-0.20,[-9.69,-9.33,-8.98,-8.92,-8.80]],[-0.25,[-9.87,-9.71,-9.57,-9.27,-9.15,-8.86]],[-0.34,[-10.02,-9.83,-9.69,-9.57,-9.33]],[-0.38,[-9.87,-9.75,-9.63,-9.51,-9.27]],[-0.46,[-9.69,-9.53]],[-0.54,[-9.84,-9.16]],[-0.61,[-9.27]],[-0.64,[-9.73]],
];

const dbtfsClusterDense: Row[] = [
  [1.21,[-9.03,-8.94]],[1.14,[-8.97,-8.87]],[1.08,[-8.94,-8.84,-8.68]],[0.98,[-9.49,-9.37,-8.92,-8.80]],[0.92,[-9.60,-9.49,-8.92,-8.77,-8.62,-8.53]],[0.85,[-9.57,-8.97,-8.86,-8.74,-8.62,-8.50]],[0.79,[-9.65,-9.53,-9.09,-8.97,-8.86,-8.74,-8.62,-8.50]],[0.73,[-9.72,-9.60,-9.39,-9.15,-9.03,-8.92,-8.80,-8.68,-8.56]],[0.67,[-9.72,-9.60,-9.21,-9.09,-8.97,-8.86,-8.74,-8.62,-8.50]],[0.61,[-9.75,-9.63,-9.18,-9.06,-8.94,-8.82,-8.70,-8.58,-8.46,-8.35]],[0.54,[-9.89,-9.77,-9.65,-9.45,-9.15,-9.03,-8.92,-8.80,-8.68,-8.56,-8.44]],[0.48,[-9.93,-9.81,-9.57,-9.27,-9.13,-9.01,-8.89,-8.77,-8.65,-8.53,-8.42]],[0.42,[-9.93,-9.81,-9.45,-9.21,-9.09,-8.97,-8.86,-8.74,-8.62,-8.50]],[0.36,[-9.89,-9.77,-9.53,-9.33,-8.97,-8.86,-8.74,-8.62]],[0.29,[-10.04,-9.87,-9.75,-9.60,-9.39,-9.21,-9.06,-8.92,-8.80,-8.68,-8.38]],[0.23,[-9.93,-9.77,-9.60,-9.45,-9.27,-9.13,-8.97,-8.82,-8.68,-8.56,-8.32]],[0.17,[-9.84,-9.69,-9.51,-9.33,-9.18,-9.03,-8.89,-8.74,-8.50,-8.26]],[0.11,[-9.81,-9.63,-9.45,-9.30,-9.15,-9.01,-8.86,-8.68,-8.44]],[0.07,[-10.10,-9.75,-9.57,-9.37,-9.21,-9.06,-8.92,-8.62,-8.50]],[0.02,[-9.69,-9.39,-9.15,-8.97,-8.70]],[-0.04,[-9.39,-9.27,-9.09,-8.92,-8.80]],[-0.11,[-9.72,-9.45,-9.27,-9.15,-8.92,-8.82]],[-0.18,[-9.93,-9.75,-9.60,-9.39,-9.21,-8.86]],[-0.25,[-9.75,-9.60,-9.39,-9.21,-8.86]],[-0.34,[-10.01,-9.87,-9.75,-9.60,-9.33]],[-0.40,[-9.89,-9.75,-9.60,-9.51,-9.27]],
];

const dbtfsSmall: Pt[] = [[-3.97,3.23],[18.89,13.18],[-7.99,0.90],[-7.88,0.88],[-7.79,0.88],[-7.79,0.92],[-7.72,0.94],[-7.67,0.96],[-7.63,1.00],[16.39,5.27],[16.57,5.17],[16.78,5.03],[16.89,5.00],[17.14,4.94],[18.53,5.30],[16.96,4.28],[17.35,4.22],[18.85,3.41],[19.35,3.41],[19.07,3.35],[19.14,3.28],[19.00,3.22],[19.24,3.08],[19.46,3.03],[19.39,3.01],[19.32,2.99],[19.00,2.99],[19.74,3.12],[19.89,3.14],[20.14,3.18],[20.31,3.16],[20.31,3.10],[19.60,2.87],[18.89,2.81],[19.21,2.81],[19.00,2.72],[19.71,2.76],[19.78,2.78],[20.03,2.74],[20.06,2.70],[19.39,2.64],[18.96,2.52],[19.28,2.41],[19.92,2.37],[19.78,2.29],[19.67,2.08],[-13.12,-1.16],[-13.16,-1.20],[-13.19,-1.24],[-13.23,-1.26],[-13.12,-1.30],[-13.30,-1.34],[-11.55,-1.33],[-11.52,-1.39],[-11.55,-1.43],[-11.48,-1.45],[-11.59,-1.53],[-9.88,-1.43],[-9.91,-1.47],[-13.05,-1.49],[-13.59,-1.53],[-13.94,-1.59],[-13.84,-1.61],[-13.91,-1.66],[-13.84,-1.70],[-13.66,-1.64],[-13.02,-1.61],[-13.12,-1.78],[-13.16,-2.01],[-13.30,-2.13],[-13.12,-2.24],[-13.12,-2.28],[-12.98,-2.34],[-12.91,-2.38],[-10.48,-1.82],[-10.59,-1.86],[-10.77,-1.93],[-10.63,-1.93],[-10.48,-1.95],[-10.63,-2.01],[-10.66,-2.05],[-10.63,-2.09],[-10.66,-2.13],[-10.84,-2.09],[-10.88,-2.13],[-10.95,-2.13],[-11.02,-2.20],[-10.88,-2.20],[-10.81,-2.18],[-10.73,-2.15],[-10.88,-2.26],[-10.70,-2.26],[-10.66,-2.30],[-10.81,-2.34],[-10.70,-2.36],[-10.63,-2.36],[-10.56,-2.38],[-10.77,-2.40],[-10.66,-2.42],[-10.70,-2.47],[-10.63,-2.51],[-10.59,-2.55],[-10.66,-2.57],[-10.70,-2.61],[-10.81,-2.59],[-10.88,-2.59],[-10.98,-2.61],[-11.06,-2.63],[-10.63,-2.63],[-12.52,-2.38],[-12.34,-2.38],[-12.48,-2.49],[-12.37,-2.51],[-12.48,-2.59],[-12.34,-2.59],[-12.37,-2.63],[-12.27,-2.61],[-12.20,-2.61],[-12.30,-2.69],[-11.80,-2.51],[-11.52,-2.55],[-11.48,-2.61],[-11.30,-2.47],[-11.23,-2.51],[-11.16,-2.44],[-11.06,-2.40],[-12.12,-2.71],[-12.16,-2.76],[-12.16,-2.80],[-11.98,-2.76],[-12.02,-2.82],[-11.84,-2.80],[-11.80,-2.71],[-11.73,-2.71],[-11.66,-2.69],[-10.91,-2.78],[-10.77,-2.80],[-10.95,-2.86],[-10.73,-2.90],[-11.20,-2.88],[-12.05,-2.92],[-11.77,-2.92],[-11.59,-2.94],[-11.45,-2.96],[-11.52,-2.98],[-12.20,-3.00],[-12.16,-3.00],[-12.02,-2.98],[-11.87,-2.90],[-11.84,-3.00],[-11.91,-3.05],[-11.73,-3.07],[-11.84,-3.07],[-11.91,-3.11],[-12.05,-3.19],[-12.12,-3.27],[-11.63,-3.27],[-11.27,-3.13],[-11.16,-3.13],[-11.34,-3.17],[-11.38,-3.23],[-11.27,-3.27],[-11.27,-3.34],[-11.20,-3.36],[-14.23,-2.71],[-14.26,-2.73],[-14.19,-2.76],[-14.23,-2.80],[-14.37,-3.07],[-15.26,-3.65],[-15.23,-3.69],[-15.16,-3.67],[-15.19,-3.73],[-15.12,-3.77],[-14.98,-3.74],[-15.05,-3.81],[-14.76,-3.84],[-15.01,-3.90],[-14.94,-3.92],[-14.91,-3.92],[-15.01,-4.17],[-14.94,-4.10],[-14.91,-4.10],[-14.48,-4.17],[-14.69,-4.02],[-14.69,-3.94],[-14.03,-4.78],[-13.96,-4.78],[-14.03,-4.82],[-13.96,-4.82],[-13.88,-4.83],[-14.03,-4.86],[-13.69,-4.75],[-13.37,-4.97],[-13.34,-4.98],[-12.87,-5.11],[-12.80,-5.05],[-12.90,-5.23],[-12.83,-5.26],[-12.83,-5.33],[-12.78,-5.18],[-12.61,-5.29],[-12.54,-5.33],[-12.66,-5.41],[-12.56,-5.41],[-12.60,-5.37],[-12.47,-5.33],[-12.27,-5.28],[-12.12,-5.31],[-13.05,-5.58],[-13.09,-5.66],[-13.02,-5.66],[-12.95,-5.64],[-13.05,-5.70],[-13.02,-5.74],[-12.90,-5.97],[-12.80,-5.73],[-11.66,-4.27],[-11.71,-4.33],[-11.73,-4.37],[-11.77,-4.43],[-11.77,-4.48],[-11.70,-4.42],[-11.23,-4.36],[-11.34,-4.50],[-10.84,-4.27],[-10.84,-4.40],[-11.89,-4.72],[-11.88,-4.79],[-12.13,-4.59],[-12.18,-4.65],[-11.45,-5.20],[-11.80,-5.12],[-10.16,-5.67],[-9.09,-6.99],[-10.38,-7.58],[-11.48,-4.02],[-11.30,-4.00],[-11.11,-4.02],[-10.84,-3.98],[-10.77,-4.02],[-10.81,-3.77],[-11.28,-3.79],[-16.11,-5.64],[-16.01,-5.62],[-16.11,-5.67],[-16.01,-5.73],[-15.99,-5.77],[-15.92,-5.79],[-15.51,-6.70],[-15.30,-6.70],[-15.23,-6.68],[-15.15,-6.68],[-15.37,-6.79],[-15.23,-6.75],[-15.15,-6.73],[-15.37,-6.89],[-15.44,-6.99],[-15.51,-7.06],[-15.44,-7.09],[-15.51,-7.15],[-15.58,-7.24],[-15.30,-7.04],[-15.15,-7.00],[-15.23,-6.99],[-15.37,-7.04]];

// these few are half hidden by the red in the original
const cotfsBuried: Pt[] = [[17.62,6.04],[16.63,3.61],[-9.84,-7.55],[-10.24,-6.84],[-9.99,-7.11]];

const cotfsPoints: Pt[] = [[16.96,5.54],[17.68,5.71],[17.39,4.98],[15.54,4.49],[-11.23,-2.30],[-12.45,-2.71],[-11.77,-2.86],[-11.45,-2.63],[-9.84,-0.06],[-9.31,-0.60],[-14.62,-3.85],[-14.51,-3.92],[-15.12,-6.95],[-12.02,-3.75],[-12.09,-3.88],[-12.05,-3.93],[-11.28,-3.79],[-11.26,-3.84],[-11.41,-3.92],[-10.87,-3.96],[-11.34,-4.19],[-12.48,-4.50],[-11.48,-4.48],[-11.70,-4.58],[-12.09,-4.62],[-11.73,-4.67],[-11.59,-4.67],[-11.27,-4.62],[-11.59,-4.81],[-11.52,-4.87],[-11.30,-4.82],[-11.34,-4.89],[-10.73,-4.79],[-10.41,-4.81],[-10.90,-4.91],[-12.20,-4.88],[-12.20,-4.95],[-11.98,-4.96],[-12.66,-4.93],[-11.59,-4.96],[-11.45,-4.98],[-11.06,-5.02],[-10.56,-5.00],[-10.38,-4.98],[-11.66,-5.06],[-11.41,-5.06],[-10.46,-5.08],[-10.38,-5.10],[-12.48,-5.18],[-10.84,-5.18],[-10.47,-5.20],[-10.44,-5.31],[-11.38,-5.31],[-11.70,-5.33],[-11.84,-5.39],[-10.31,-5.37],[-10.02,-5.49],[-9.88,-5.41],[-10.77,-5.49],[-10.56,-5.45],[-10.45,-5.45],[-10.24,-5.49],[-11.48,-5.41],[-11.27,-5.45],[-11.38,-5.56],[-11.30,-5.58],[-11.06,-5.64],[-10.81,-5.68],[-10.34,-5.68],[-10.52,-5.64],[-12.13,-5.70],[-10.95,-5.76],[-10.56,-5.76],[-10.31,-5.79],[-11.30,-5.85],[-11.02,-5.85],[-10.49,-5.85],[-9.84,-5.93],[-11.45,-5.97],[-10.84,-6.08],[-11.80,-6.03],[-12.30,-6.08],[-11.09,-6.10],[-10.49,-6.14],[-10.88,-6.22],[-11.30,-6.24],[-12.62,-6.30],[-11.95,-6.35],[-10.41,-6.32],[-10.95,-6.39],[-9.70,-6.49],[-11.09,-6.55],[-11.20,-7.03],[-11.13,-6.97],[-11.06,-6.99],[-10.16,-6.99]];

const unrow = (rows: Row[]): Pt[] => rows.flatMap(([y, xs]) => xs.map((x) => [x, y] as Pt));

const neither = [
  ...neitherTop, ...neitherTail, ...neitherMiddle, ...neitherHook, ...neitherSmall,
  ...unrow(hookTopRows), ...unrow(hookBottomRows),
  ...unrow(neitherLowerRows), ...unrow(neitherUpperDense), ...unrow(neitherBottomDense),
];
const dbtfs = [...unrow(dbtfsClusterRows), ...unrow(dbtfsClusterDense), ...dbtfsSmall];

const FONT = '"Liberation Sans", Arial, sans-serif';

export default function App() {
  const ref = useRef<SVGSVGElement>(null);

  useEffect(() => {
    const svg = d3.select(ref.current);
    svg.selectAll('*').remove();

    const x = d3.scaleLinear().domain([-18.16, 26.9]).range([139, 1403]);
    const y = d3.scaleLinear().domain([-9.51, 16.77]).range([1365, 98]);

    const layers: [Pt[], string][] = [
      [dbtfs, colors[1]],
      [cotfsBuried, colors[2]],
      [neither, colors[0]],
      [cotfsPoints, colors[2]],
    ];
    layers.forEach(([pts, col]) => {
      svg.append('g')
        .attr('shape-rendering', 'crispEdges')
        .selectAll('rect')
        .data(pts)
        .join('rect')
        .attr('x', (d) => Math.round(x(d[0]) - 1.5))
        .attr('y', (d) => Math.round(y(d[1]) - 1.5))
        .attr('width', 3)
        .attr('height', 3)
        .attr('fill', col);
    });

    const xAxis = svg.append('g')
      .attr('transform', 'translate(0,1365.3)')
      .call(d3.axisBottom(x).tickValues(xTicks).tickSize(12).tickPadding(7).tickFormat(d3.format('d') as any));
    const yAxis = svg.append('g')
      .attr('transform', 'translate(139,0)')
      .call(d3.axisLeft(y).tickValues(yTicks).tickSize(12).tickPadding(8).tickFormat(d3.format('d') as any));

    [xAxis, yAxis].forEach((a) => {
      a.select('.domain').attr('stroke', '#000').attr('stroke-width', 3.7).attr('d', null);
      a.selectAll('.tick line').attr('stroke', '#333').attr('stroke-width', 3.7);
      a.selectAll('.tick text').attr('fill', '#4D4D4D').attr('font-size', 35).attr('font-family', FONT);
    });
    xAxis.select('.domain').attr('d', 'M137.2,0H1404.5');
    yAxis.select('.domain').attr('d', 'M0,98V1367');
    // d3 formats negatives with a unicode minus, the original has a hyphen
    svg.selectAll('.tick text').text((d: any) => String(d));

    const text = (s: string, tx: number, ty: number, size: number, anchor = 'start') =>
      svg.append('text').text(s).attr('x', tx).attr('y', ty)
        .attr('font-size', size).attr('font-family', FONT).attr('text-anchor', anchor).attr('fill', '#000');

    text(titleText, 771, 62, 55, 'middle');
    text('X', 772, 1466, 44, 'middle');
    svg.append('text').text('Y')
      .attr('transform', 'translate(56,731) rotate(-90)')
      .attr('font-size', 44).attr('font-family', FONT).attr('text-anchor', 'middle');

    text(legendTitle, 1474, 523, 45.2);
    const legendY = d3.scalePoint<string>().domain(legendLabels).range([623, 906.4]);
    legendLabels.forEach((lab, i) => {
      const cy = legendY(lab) as number;
      svg.append('circle').attr('cx', 1544.6).attr('cy', cy).attr('r', 56.3).attr('fill', colors[i]);
      text(lab, 1638, cy + 17.8, 50);
    });
  }, []);

  return (
    <svg
      ref={ref}
      width={2100}
      height={1500}
      style={{ position: 'absolute', left: 0, top: 0, background: '#fff' }}
    />
  );
}
